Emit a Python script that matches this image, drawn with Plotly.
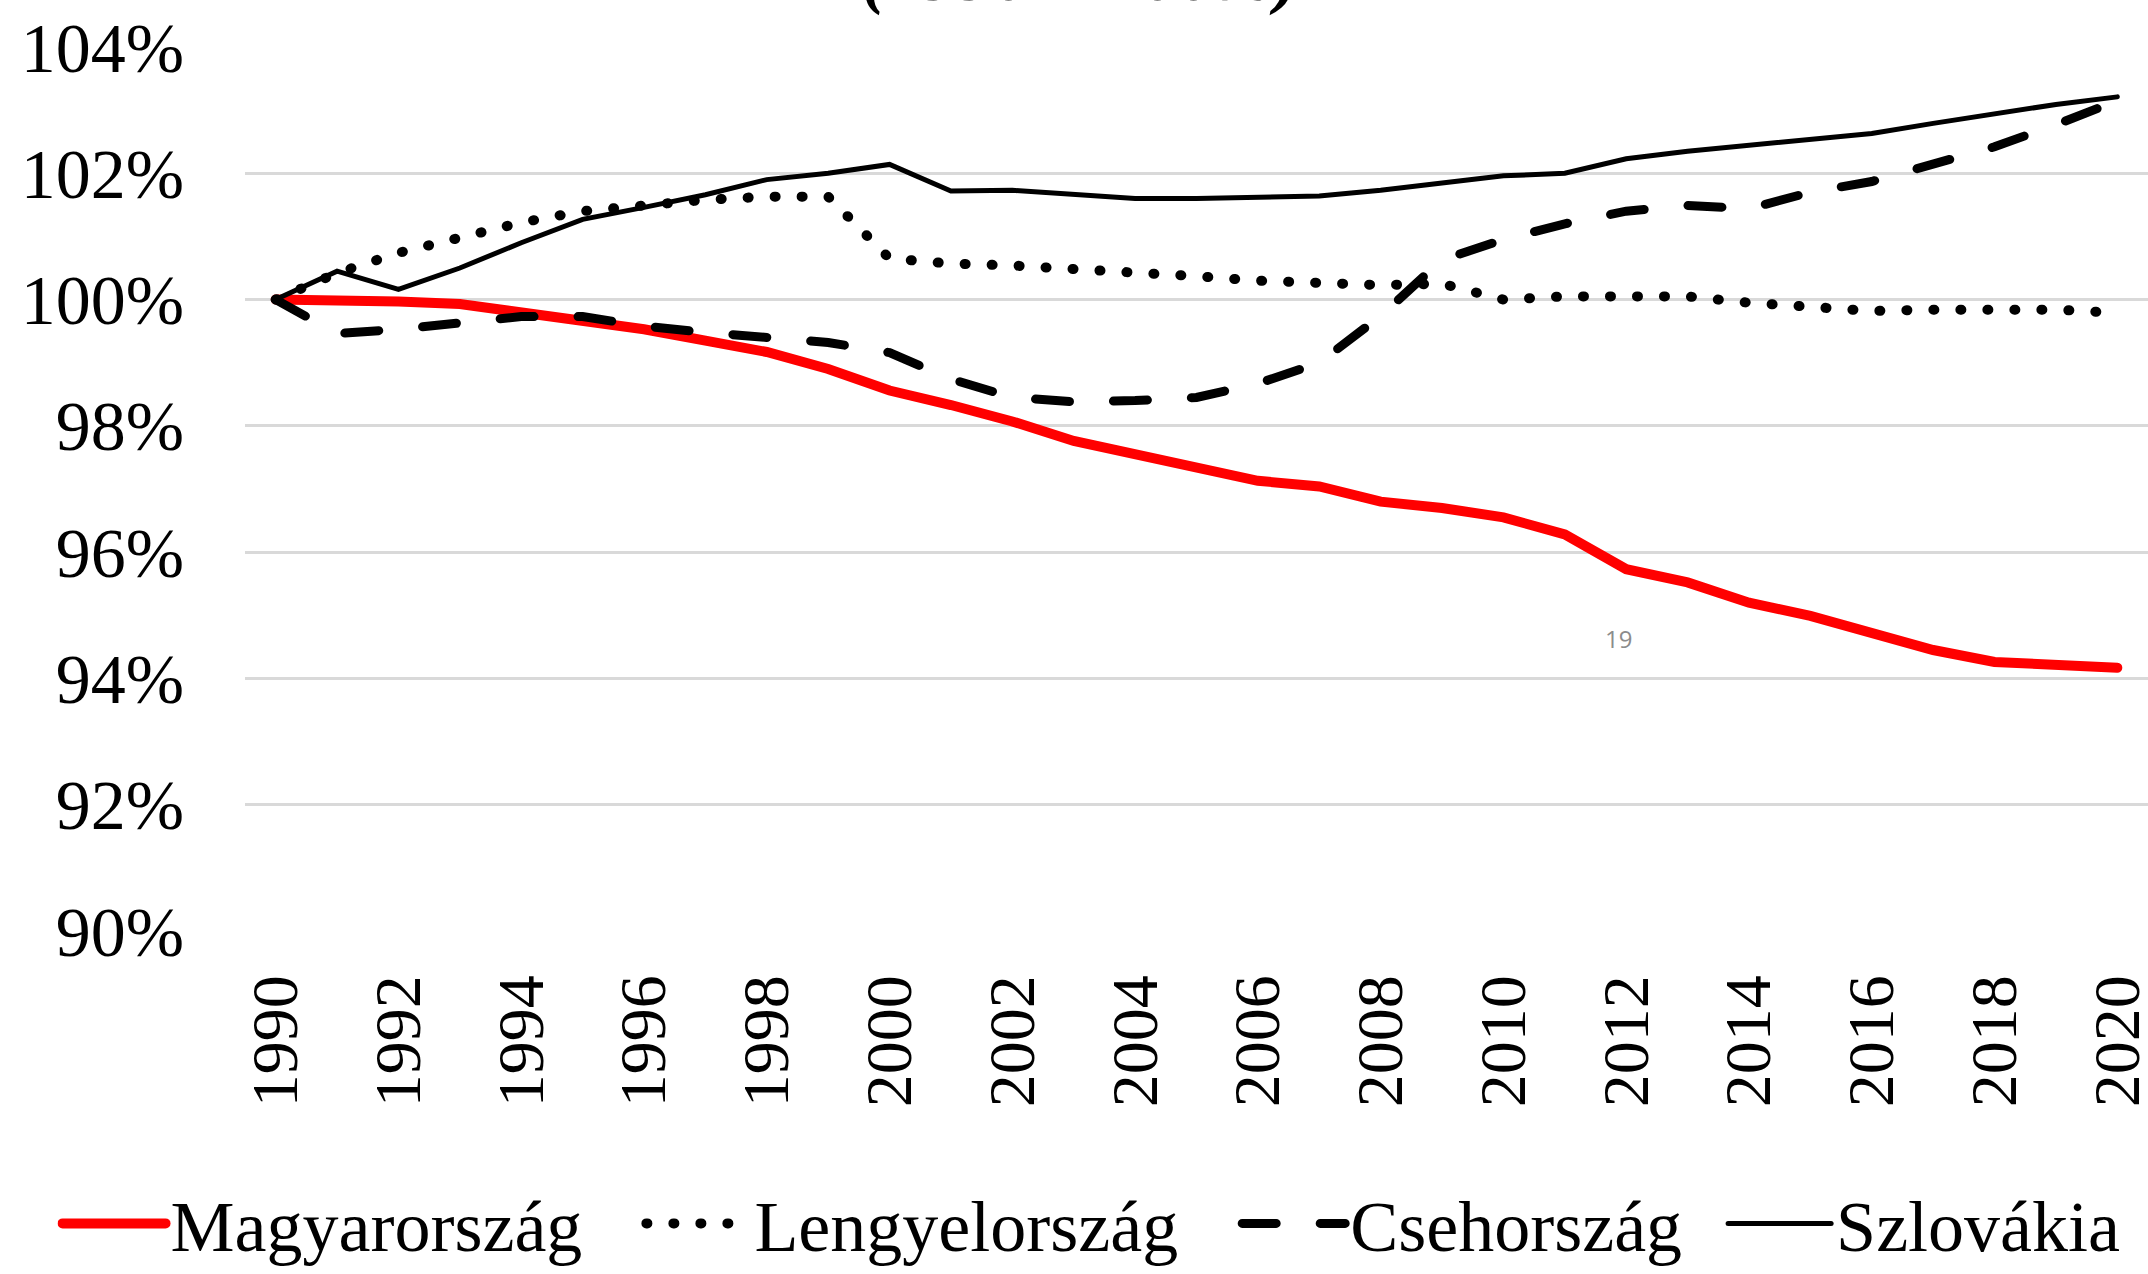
import plotly.graph_objects as go

years = [str(y) for y in range(1990, 2021)]

magyarorszag = [100, 99.99, 99.97, 99.93, 99.80, 99.68, 99.53, 99.35, 99.17, 98.90,
                98.56, 98.33, 98.07, 97.76, 97.54, 97.36, 97.13, 97.04, 96.80, 96.70,
                96.55, 96.28, 95.73, 95.52, 95.20, 94.99, 94.72, 94.45, 94.26, 94.20, 94.17]
lengyelorszag = [100, 100.42, 100.74, 101.00, 101.22, 101.40, 101.50, 101.58, 101.63, 101.63,
                 100.65, 100.57, 100.54, 100.49, 100.42, 100.37, 100.30, 100.25, 100.23, 100.25,
                 100.00, 100.05, 100.05, 100.05, 99.95, 99.88, 99.82, 99.84, 99.84, 99.84, 99.79]
csehorszag = [100, 99.46, 99.53, 99.64, 99.73, 99.73, 99.58, 99.48, 99.40, 99.32,
              99.16, 98.74, 98.45, 98.38, 98.40, 98.45, 98.67, 99.00, 99.74, 100.63,
              100.95, 101.20, 101.40, 101.49, 101.44, 101.70, 101.87, 102.14, 102.42, 102.77, 103.15]
szlovakia = [100, 100.45, 100.16, 100.50, 100.90, 101.27, 101.46, 101.66, 101.90, 102.00,
             102.14, 101.72, 101.73, 101.66, 101.60, 101.60, 101.62, 101.64, 101.73, 101.85,
             101.96, 102.00, 102.23, 102.35, 102.44, 102.54, 102.63, 102.79, 102.94, 103.09, 103.21]

series_names = ["Magyarország", "Lengyelország", "Csehország", "Szlovákia"]
y_ticks = [90, 92, 94, 96, 98, 100, 102, 104]
y_ticktext = [f"{v}%" for v in y_ticks]
x_ticks = [str(y) for y in range(1990, 2021, 2)]

SERIF = "Liberation Serif, Times New Roman, serif"
NB = "\u00a0"
legend_pad = [3, 3, 2, 0]

styles = [
    dict(color="#ff0000", width=10),
    dict(color="#000000", width=10, dash="1px,26px"),
    dict(color="#000000", width=9, dash="34px,44px"),
    dict(color="#000000", width=5),
]

fig = go.Figure()
for name, vals, st, pad in zip(series_names,
                               [magyarorszag, lengyelorszag, csehorszag, szlovakia],
                               styles, legend_pad):
    fig.add_trace(go.Scatter(x=years, y=vals, name=name + NB * pad, mode="lines",
                             line=st, hovertemplate=name + ": %{y:.2f}%<extra></extra>"))

fig.update_layout(
    width=2148, height=1274,
    margin=dict(l=245, r=0, t=47, b=343, autoexpand=False),
    plot_bgcolor="white", paper_bgcolor="white",
    font=dict(family=SERIF, color="black", size=68),
    showlegend=True,
    legend=dict(orientation="h", x=-0.0985, xanchor="left",
                y=-0.331, yanchor="middle",
                font=dict(family=SERIF, size=72, color="black"),
                itemwidth=103, bgcolor="rgba(0,0,0,0)", borderwidth=0),
    xaxis=dict(type="category", range=[-0.5, 30.5], tickvals=x_ticks, ticktext=x_ticks,
               tickangle=-90, showgrid=False, zeroline=False, showline=False,
               ticks="", ticklabelstandoff=30,
               tickfont=dict(family=SERIF, size=66, color="black")),
    yaxis=dict(range=[90, 104], tickvals=y_ticks, ticktext=y_ticktext,
               showgrid=True, gridcolor="#d9d9d9", gridwidth=3, zeroline=False,
               showline=False, ticks="", ticklabelstandoff=60,
               tickfont=dict(family=SERIF, size=70, color="black")),
    annotations=[
        dict(text="<b><i>(1990 = 100%)</i></b>", xref="paper", yref="paper",
             x=0.4388, y=1.033, xanchor="center", yanchor="bottom", showarrow=False,
             font=dict(family=SERIF, size=72, color="black")),
        dict(text="19", xref="paper", yref="paper", x=0.722, y=0.331,
             xanchor="center", yanchor="middle", showarrow=False,
             font=dict(family="Open Sans, sans-serif", size=24, color="#8c8c8c")),
    ],
)

post = """
var st = document.createElement('style');
st.innerHTML = 'html, body {margin:0; padding:0; overflow:hidden;} ' +
               '.scatterlayer .js-line, .legend .js-line {stroke-linecap: round;}';
document.head.appendChild(st);
"""

fig.write_html("out.html", post_script=post, config={"displayModeBar": False})
